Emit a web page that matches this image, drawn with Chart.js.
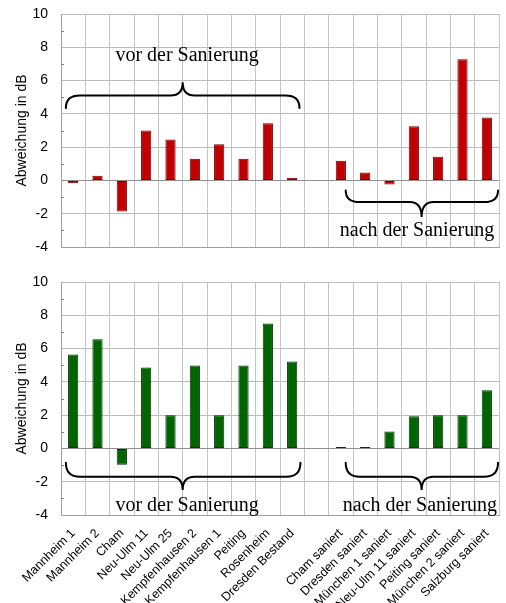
<!DOCTYPE html>
<html><head><meta charset="utf-8">
<script src="https://cdn.jsdelivr.net/npm/chart.js@4"></script>
<style>
html,body{margin:0;padding:0;background:#fff;}
#w1{position:absolute;left:0;top:0;width:506px;height:260px;}
#w2{position:absolute;left:0;top:260px;width:506px;height:343px;}
</style></head><body>
<div id="w1"><canvas id="c1"></canvas></div>
<div id="w2"><canvas id="c2"></canvas></div>
<script>
// ---- data ----
const categories = ['Mannheim 1','Mannheim 2','Cham','Neu-Ulm 11','Neu-Ulm 25','Kempfenhausen 2','Kempfenhausen 1','Peiting','Rosenheim','Dresden Bestand','','Cham saniert','Dresden saniert','München 1 saniert','Neu-Ulm 11 saniert','Peiting saniert','München 2 saniert','Salzburg saniert'];
const topValues = [-0.17,0.28,-1.87,3.0,2.46,1.3,2.17,1.3,3.43,0.16,null,1.18,0.47,-0.24,3.26,1.42,7.28,3.78];
const bottomValues = [5.64,6.56,-0.98,4.86,2.0,4.98,2.0,4.98,7.5,5.22,null,0.08,0.08,1.02,1.94,2.0,2.0,3.5];
const yMin = -4, yMax = 10, yLabelStep = 2;
const yTitle = 'Abweichung in dB';
const groupVor = 'vor der Sanierung';
const groupNach = 'nach der Sanierung';

// brace annotations (category index / value coordinates)
const topBraces = [
  {x1:-0.3, x2:9.3, xm:4.5, tip:4.35, line:5.1, peak:5.9, text:groupVor, tx:4.68, ty:7.2},
  {x1:11.2, x2:17.46, xm:14.32, tip:-0.6, line:-1.3, peak:-2.2, text:groupNach, tx:14.13, ty:-3.35}
];
const bottomBraces = [
  {x1:-0.3, x2:9.34, xm:4.5, tip:-0.86, line:-1.7, peak:-2.5, text:groupVor, tx:4.68, ty:-3.76},
  {x1:11.2, x2:17.46, xm:14.32, tip:-0.86, line:-1.7, peak:-2.5, text:groupNach, tx:14.25, ty:-3.76}
];

const bracePlugin = {
  id:'braces',
  afterDatasetsDraw(chart, args, opts){
    const {ctx} = chart; const xs = chart.scales.x, ys = chart.scales.y;
    ctx.save();
    // minor inward ticks
    ctx.strokeStyle = '#808080'; ctx.lineWidth = 1;
    for (let v = yMin + 1; v < yMax; v += 2) {
      const py = Math.round(ys.getPixelForValue(v)) + 0.5;
      ctx.beginPath(); ctx.moveTo(chart.chartArea.left, py); ctx.lineTo(chart.chartArea.left + 3, py); ctx.stroke();
    }
    ctx.strokeStyle = '#000'; ctx.lineWidth = 2; ctx.lineCap='round';
    (opts.items||[]).forEach(b=>{
      const x1 = xs.getPixelForValue(b.x1), x2 = xs.getPixelForValue(b.x2), xm = xs.getPixelForValue(b.xm);
      const yt = ys.getPixelForValue(b.tip), yl = ys.getPixelForValue(b.line), yp = ys.getPixelForValue(b.peak);
      const r = 14, rm = 12;
      ctx.beginPath();
      ctx.moveTo(x1, yt);
      ctx.quadraticCurveTo(x1, yl, x1 + r, yl);
      ctx.lineTo(xm - rm, yl);
      ctx.quadraticCurveTo(xm, yl, xm, yp);
      ctx.quadraticCurveTo(xm, yl, xm + rm, yl);
      ctx.lineTo(x2 - r, yl);
      ctx.quadraticCurveTo(x2, yl, x2, yt);
      ctx.stroke();
      ctx.fillStyle = '#000';
      ctx.font = '20px "Liberation Serif", "Times New Roman", serif';
      ctx.textAlign = 'center'; ctx.textBaseline = 'alphabetic';
      ctx.fillText(b.text, xs.getPixelForValue(b.tx), ys.getPixelForValue(b.ty));
    });
    ctx.restore();
  }
};

function makeChart(id, values, color, border, braces, showLabels, padTop, xHeight){
  return new Chart(document.getElementById(id), {
    type:'bar',
    data:{labels:categories, datasets:[{data:values, backgroundColor:color, borderColor:border, borderWidth:1, borderSkipped:false, barPercentage:0.42, categoryPercentage:1}]},
    options:{
      responsive:true, maintainAspectRatio:false, animation:false,
      layout:{padding:{top:padTop, right:7, left:0, bottom:0}},
      plugins:{legend:{display:false}, tooltip:{enabled:false}, braces:{items:braces}},
      scales:{
        x:{
          grid:{offset:true, color:'#c4c4c4', drawTicks:false},
          border:{color:'#a0a0a0'},
          ticks:{display:true, autoSkip:false, maxRotation:45, minRotation:45, padding:11, color: showLabels ? '#000' : 'rgba(0,0,0,0)', font:{family:'Arial, "Liberation Sans", sans-serif', size:12.5}},
          afterFit(s){ s.height = xHeight; s.paddingRight = 0; s.paddingLeft = 0; }
        },
        y:{
          min:yMin, max:yMax,
          ticks:{stepSize:yLabelStep, autoSkip:false, padding:0, color:'#000', font:{family:'Arial, "Liberation Sans", sans-serif', size:14}},
          grid:{color:(c)=> (c.tick && c.tick.value===0 ? '#909090' : '#bcbcbc'), drawTicks:true, tickLength:13, tickColor:'rgba(0,0,0,0)'},
          border:{color:'#a0a0a0'},
          title:{display:true, text:yTitle, color:'#000', padding:{top:13.6, bottom:0}, font:{family:'Arial, "Liberation Sans", sans-serif', size:14}},
          afterFit(s){ s.width = 61; }
        }
      }
    },
    plugins:[bracePlugin]
  });
}

makeChart('c1', topValues, '#c00000', '#700000', topBraces, false, 14, 13);
makeChart('c2', bottomValues, '#006400', '#003300', bottomBraces, true, 22, 88);
</script>
</body></html>
